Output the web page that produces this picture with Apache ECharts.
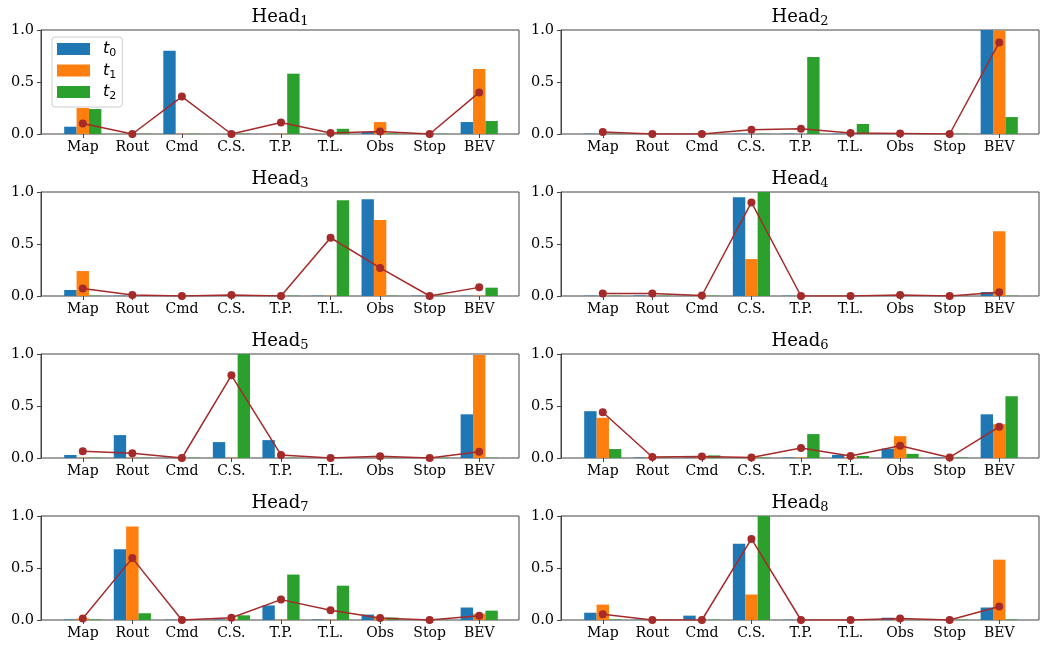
<!DOCTYPE html>
<html lang="en">
  <head>
    <meta charset="UTF-8" />
    <title>heads</title>
    <script src="https://cdn.jsdelivr.net/npm/echarts@6/dist/echarts.min.js"></script>
    <style>
      * {
        margin: 0;
        padding: 0;
      }
      body {
        background: #fff;
      }
    </style>
  </head>
  <body>
    <div id="charts" style="width: 1042px; height: 645px"></div>
    <script>
      var categories = ["Map", "Rout", "Cmd", "C.S.", "T.P.", "T.L.", "Obs", "Stop", "BEV"];
      var headNames = ["1", "2", "3", "4", "5", "6", "7", "8"];
      var seriesNames = ["t0", "t1", "t2"];

      // one row per head
      var t0Data = [
        [0.07, 0, 0.8, 0, 0, 0, 0.02, 0, 0.115],
        [0.003, 0, 0, 0.003, 0.003, 0.003, 0, 0, 1.0],
        [0.058, 0.003, 0.003, 0.003, 0.003, 0.003, 0.93, 0.003, 0.003],
        [0.003, 0.005, 0.003, 0.95, 0.003, 0, 0, 0, 0.038],
        [0.029, 0.22, 0.003, 0.153, 0.172, 0, 0, 0.003, 0.42],
        [0.45, 0.005, 0.005, 0.005, 0.005, 0.03, 0.09, 0.005, 0.42],
        [0.005, 0.68, 0.003, 0.005, 0.14, 0.005, 0.052, 0, 0.12],
        [0.07, 0.003, 0.042, 0.733, 0.003, 0, 0.022, 0, 0.12],
      ];
      var t1Data = [
        [0.25, 0, 0.003, 0, 0.003, 0, 0.115, 0, 0.625],
        [0, 0, 0, 0, 0, 0, 0, 0, 0.995],
        [0.24, 0, 0, 0, 0, 0.003, 0.73, 0, 0.003],
        [0, 0, 0.005, 0.355, 0, 0, 0, 0, 0.623],
        [0.003, 0.003, 0, 0.003, 0.003, 0, 0, 0, 0.99],
        [0.387, 0.01, 0.01, 0.01, 0.005, 0.01, 0.21, 0.003, 0.326],
        [0.015, 0.9, 0, 0.005, 0.003, 0.003, 0.02, 0, 0.06],
        [0.148, 0, 0, 0.245, 0, 0, 0.01, 0, 0.58],
      ];
      var t2Data = [
        [0.24, 0.003, 0.003, 0.003, 0.58, 0.05, 0.005, 0.003, 0.125],
        [0.003, 0, 0, 0.003, 0.74, 0.096, 0, 0.003, 0.163],
        [0.003, 0.003, 0.003, 0.003, 0.003, 0.92, 0.003, 0.003, 0.08],
        [0.003, 0.003, 0.003, 1.0, 0, 0, 0.003, 0.003, 0.003],
        [0.003, 0.003, 0.003, 1.0, 0.003, 0.003, 0.003, 0.003, 0.003],
        [0.086, 0.005, 0.025, 0.005, 0.23, 0.02, 0.04, 0.005, 0.594],
        [0.005, 0.065, 0.003, 0.045, 0.437, 0.33, 0.023, 0.003, 0.09],
        [0.005, 0.003, 0.003, 1.0, 0, 0, 0.003, 0.003, 0.005],
      ];
      var lineData = [
        [0.1, 0.0, 0.36, 0.0, 0.11, 0.01, 0.025, 0.0, 0.4],
        [0.02, 0.0, 0.0, 0.04, 0.05, 0.01, 0.005, 0.0, 0.88],
        [0.073, 0.01, 0.0, 0.01, 0.0, 0.56, 0.27, 0.0, 0.083],
        [0.025, 0.025, 0.005, 0.9, 0.0, 0.0, 0.01, 0.0, 0.035],
        [0.064, 0.045, 0.0, 0.795, 0.03, 0.0, 0.018, 0.0, 0.06],
        [0.44, 0.01, 0.015, 0.005, 0.096, 0.02, 0.118, 0.005, 0.3],
        [0.015, 0.595, 0.0, 0.022, 0.196, 0.094, 0.02, 0.0, 0.042],
        [0.055, 0.0, 0.0, 0.78, 0.0, 0.0, 0.015, 0.0, 0.13],
      ];
      var yTicks = [0, 0.5, 1];

      var colors = ["#1f77b4", "#ff7f0e", "#2ca02c"];
      var lineColor = "#a52a2a";
      var spine = "#444";
      var serif = "DejaVu Serif";

      var myChart = echarts.init(document.getElementById("charts"));
      var grids = [], xAxes = [], yAxes = [], series = [], titles = [];

      for (var i = 0; i < 8; i++) {
        var col = i % 2;
        var row = Math.floor(i / 2);
        var boxLeft = col === 0 ? 41 : 561;
        var boxTop = 30 + row * 162;
        var frame = 2 * i, inner = 2 * i + 1;

        // outer box (the spines) + y axis
        grids.push({
          left: boxLeft, top: boxTop, width: 478, height: 104,
          show: true, borderColor: spine, borderWidth: 1,
          backgroundColor: "transparent", outerBoundsMode: "none",
        });
        // inner grid holding the categories, matplotlib-style margins
        grids.push({
          left: boxLeft + 17, top: boxTop, width: 446, height: 104,
          outerBoundsMode: "none",
        });

        xAxes.push({ gridIndex: frame, type: "value", show: false, min: 0, max: 1 });
        yAxes.push({
          gridIndex: frame, type: "value",
          min: yTicks[0], max: yTicks[2], interval: yTicks[1],
          axisLine: { show: true, lineStyle: { color: spine } },
          axisTick: { show: true, length: 4, lineStyle: { color: spine } },
          splitLine: { show: false },
          axisLabel: {
            formatter: function (v) { return v.toFixed(1); },
            fontFamily: serif, fontSize: 14.5, color: "#000", margin: 7,
          },
        });
        xAxes.push({
          gridIndex: inner, type: "category", data: categories,
          axisLine: { show: false },
          axisTick: { show: true, alignWithLabel: true, length: 4, lineStyle: { color: spine } },
          axisLabel: { fontFamily: serif, fontSize: 14, color: "#000", margin: 6, interval: 0 },
        });
        yAxes.push({ gridIndex: inner, type: "value", min: 0, max: 1, show: false });

        var sets = [t0Data[i], t1Data[i], t2Data[i]];
        for (var k = 0; k < 3; k++) {
          series.push({
            name: seriesNames[k], type: "bar",
            xAxisIndex: inner, yAxisIndex: inner,
            data: sets[k],
            barGap: "0%", barCategoryGap: "25%",
            itemStyle: { color: colors[k] },
          });
        }
        series.push({
          name: "mean", type: "line",
          xAxisIndex: inner, yAxisIndex: inner,
          data: lineData[i],
          symbol: "circle", symbolSize: 8, showSymbol: true,
          lineStyle: { color: lineColor, width: 1.5 },
          itemStyle: { color: lineColor },
          z: 3,
        });

        titles.push({
          text: "{a|Head}{b|" + headNames[i] + "}",
          left: boxLeft + 239, top: boxTop - 24, textAlign: "center", padding: 0,
          textStyle: {
            fontWeight: "normal",
            rich: {
              a: { fontFamily: serif, fontSize: 18, fontWeight: "normal", color: "#000", lineHeight: 22 },
              b: { fontFamily: serif, fontSize: 13, fontWeight: "normal", color: "#000", lineHeight: 11, verticalAlign: "bottom" },
            },
          },
        });
      }

      var options = {
        animation: false,
        backgroundColor: "#fff",
        title: titles,
        grid: grids,
        xAxis: xAxes,
        yAxis: yAxes,
        legend: {
          data: seriesNames,
          orient: "vertical",
          left: 52, top: 37,
          padding: [4, 6, 5, 5],
          itemWidth: 33, itemHeight: 12, itemGap: 3.5,
          icon: "rect",
          borderColor: "#ccc", borderWidth: 1, borderRadius: 3,
          backgroundColor: "rgba(255,255,255,0.8)",
          formatter: function (name) {
            return "{g|}{t|t}{s|" + name.slice(1) + "}";
          },
          textStyle: {
            rich: {
              g: { width: 8 },
              t: { fontFamily: "DejaVu Sans", fontStyle: "italic", fontSize: 16, color: "#000", lineHeight: 20 },
              s: { fontFamily: "DejaVu Sans", fontSize: 11, color: "#000", lineHeight: 10, verticalAlign: "bottom" },
            },
          },
        },
        series: series,
      };
      myChart.setOption(options);
    </script>
  </body>
</html>
